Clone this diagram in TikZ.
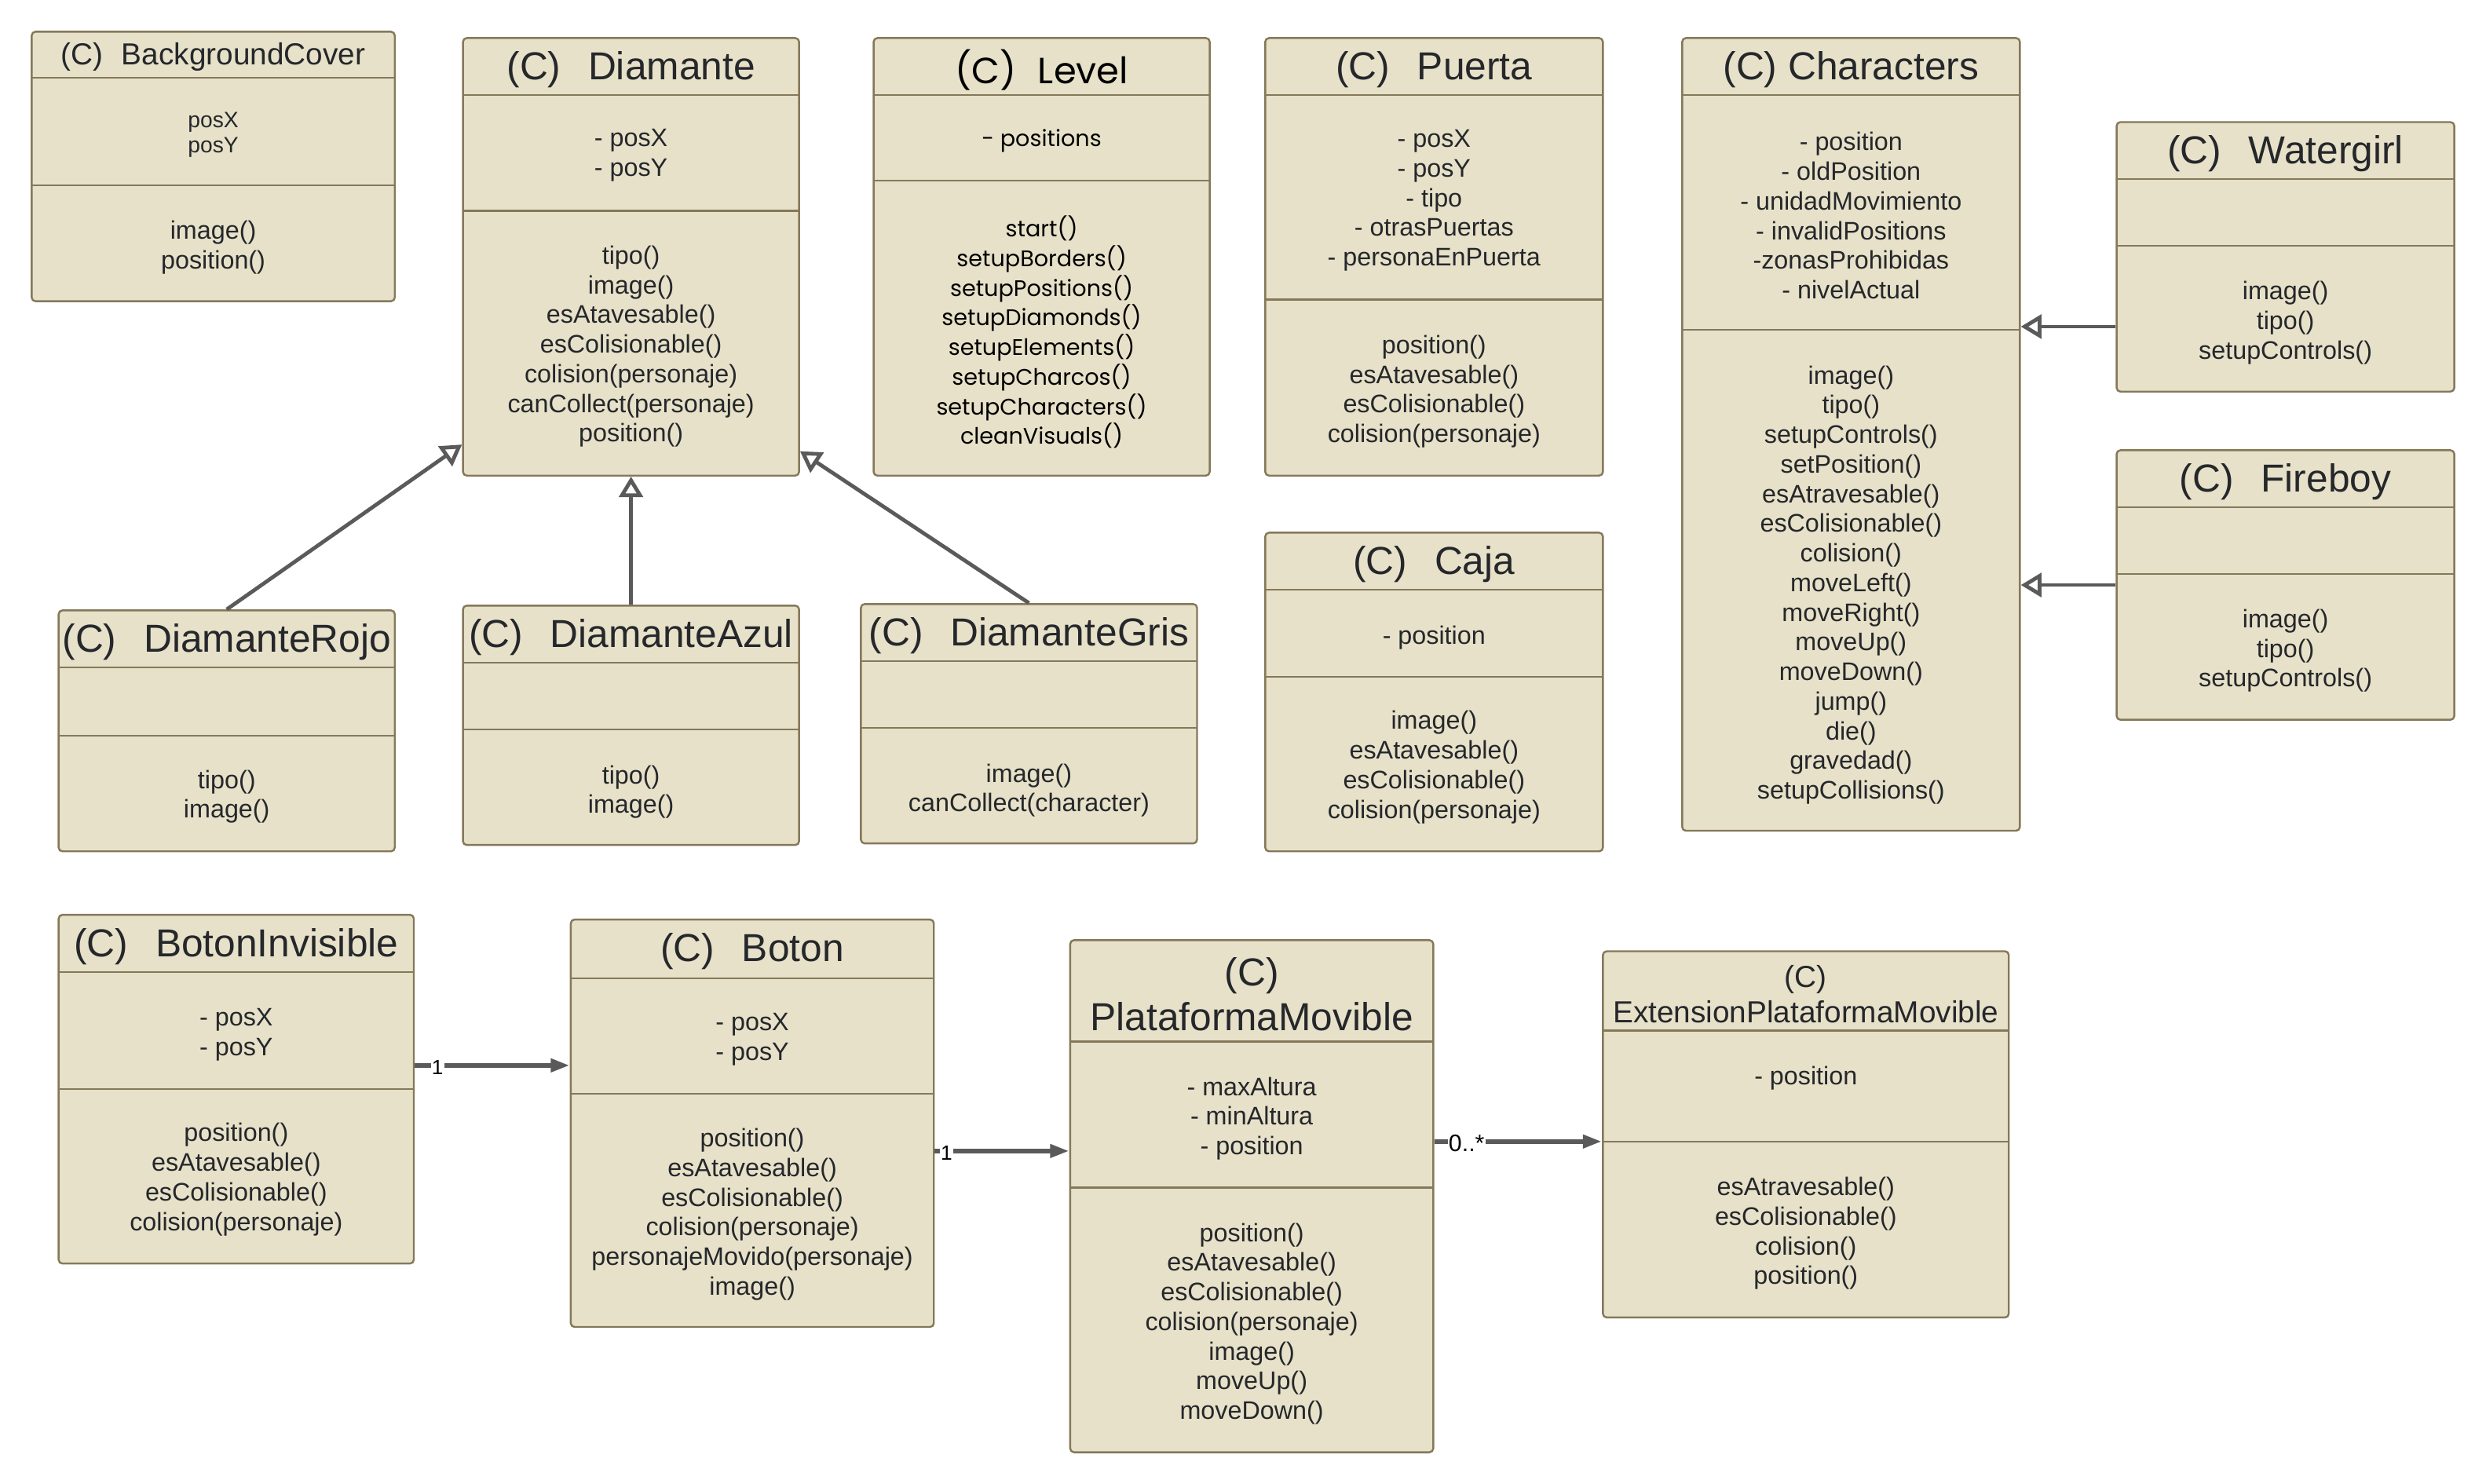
\documentclass[tikz,border=0pt]{standalone}
\usepackage{fontspec}
\setmainfont{Liberation Sans}
\newfontfamily\lvlfont{Poppins}
\usetikzlibrary{arrows.meta}
\usetikzlibrary{fit}

\definecolor{umlfill}{HTML}{E6E1C8}
\definecolor{umlborder}{HTML}{85785A}
\definecolor{umltext}{HTML}{25272B}
\definecolor{umlline}{HTML}{5A5A5A}

\newcommand{\clsfont}{\fontsize{12.3}{14}\selectfont}
\newcommand{\sclsfont}{\fontsize{9.6}{11}\selectfont}
\newcommand{\memfont}{\fontsize{8}{9.35}\selectfont}
\newcommand{\smemfont}{\fontsize{7}{8}\selectfont}

\begin{document}
\begin{tikzpicture}[x=0.5pt,y=-0.5pt,
    cls/.style={draw=umlborder, fill=umlfill, line width=0.6pt, rounded corners=1.2pt, inner sep=0pt},
    div/.style={draw=umlborder, line width=0.6pt},
    mem/.style={text=umltext, align=center, inner sep=0pt, yshift=-1pt, font=\memfont},
    head/.style={text=umltext, align=center, inner sep=0pt, yshift=-1pt, font=\clsfont},
    inh/.style={draw=umlline, line width=1.2pt, -{Triangle[open, length=6.5pt, width=7.5pt]}},
    asc/.style={draw=umlline, line width=1.5pt, -{Triangle[length=6pt, width=4pt]}},
    mult/.style={text=black, fill=white, inner sep=0.3pt, font=\fontsize{6.5}{6.5}\selectfont}]
    \useasboundingbox (0,0) rectangle (1568,936);

    % BackgroundCover
    \node[cls, fit={(20,20) (249,190)}] (bg) {};
    \draw[div] (20,49) -- (249,49);
    \draw[div] (20,117) -- (249,117);
    \node[head, font=\sclsfont] (bg-t) at (134.5,34) {(C)\hspace{0.6em}BackgroundCover};
    \node[mem, font=\smemfont] (bg-a) at (134.5,83) {posX\\posY};
    \node[mem] (bg-m) at (134.5,154) {image()\\position()};

    % Diamante
    \node[cls, fit={(292,24) (504,300)}] (dia) {};
    \draw[div] (292,60) -- (504,60);
    \draw[div] (292,133) -- (504,133);
    \node[head] (dia-t) at (398,42) {(C)\hspace{0.7em}Diamante};
    \node[mem] (dia-a) at (398,96) {- posX\\- posY};
    \node[mem] (dia-m) at (398,216.5) {tipo()\\image()\\esAtavesable()\\esColisionable()\\colision(personaje)\\canCollect(personaje)\\position()};

    % Level
    \node[cls, fit={(551,24) (763,300)}] (lvl) {};
    \draw[div] (551,60) -- (763,60);
    \draw[div] (551,114) -- (763,114);
    \node[head, text=black, font=\lvlfont\fontsize{11.5}{14}\selectfont] (lvl-t) at (657,42) {(C)\hspace{0.6em}Level};
    \node[mem, text=black, font=\lvlfont\fontsize{7.1}{9.35}\selectfont] (lvl-a) at (657,87) {- positions};
    \node[mem, text=black, font=\lvlfont\fontsize{7.1}{9.35}\selectfont] (lvl-m) at (657,207.5) {start()\\setupBorders()\\setupPositions()\\setupDiamonds()\\setupElements()\\setupCharcos()\\setupCharacters()\\cleanVisuals()};

    % Puerta
    \node[cls, fit={(798,24) (1011,300)}] (pue) {};
    \draw[div] (798,60) -- (1011,60);
    \draw[div] (798,189) -- (1011,189);
    \node[head] (pue-t) at (904.5,42) {(C)\hspace{0.7em}Puerta};
    \node[mem] (pue-a) at (904.5,124.5) {- posX\\- posY\\- tipo\\- otrasPuertas\\- personaEnPuerta};
    \node[mem] (pue-m) at (904.5,245) {position()\\esAtavesable()\\esColisionable()\\colision(personaje)};

    % Characters
    \node[cls, fit={(1061,24) (1274,524)}] (chr) {};
    \draw[div] (1061,60) -- (1274,60);
    \draw[div] (1061,208) -- (1274,208);
    \node[head] (chr-t) at (1167.5,42) {(C) Characters};
    \node[mem] (chr-a) at (1167.5,134) {- position\\- oldPosition\\- unidadMovimiento\\- invalidPositions\\-zonasProhibidas\\- nivelActual};
    \node[mem] (chr-m) at (1167.5,367) {image()\\tipo()\\setupControls()\\setPosition()\\esAtravesable()\\esColisionable()\\colision()\\moveLeft()\\moveRight()\\moveUp()\\moveDown()\\jump()\\die()\\gravedad()\\setupCollisions()};

    % Watergirl
    \node[cls, fit={(1335,77) (1548,247)}] (wat) {};
    \draw[div] (1335,113) -- (1548,113);
    \draw[div] (1335,155) -- (1548,155);
    \node[head] (wat-t) at (1441.5,95) {(C)\hspace{0.7em}Watergirl};
    \node[mem] (wat-m) at (1441.5,201.5) {image()\\tipo()\\setupControls()};

    % Fireboy
    \node[cls, fit={(1335,284) (1548,454)}] (fir) {};
    \draw[div] (1335,320) -- (1548,320);
    \draw[div] (1335,362) -- (1548,362);
    \node[head] (fir-t) at (1441.5,302) {(C)\hspace{0.7em}Fireboy};
    \node[mem] (fir-m) at (1441.5,408.5) {image()\\tipo()\\setupControls()};

    % Caja
    \node[cls, fit={(798,336) (1011,537)}] (caj) {};
    \draw[div] (798,372) -- (1011,372);
    \draw[div] (798,427) -- (1011,427);
    \node[head] (caj-t) at (904.5,354) {(C)\hspace{0.7em}Caja};
    \node[mem] (caj-a) at (904.5,400) {- position};
    \node[mem] (caj-m) at (904.5,482) {image()\\esAtavesable()\\esColisionable()\\colision(personaje)};

    % second row: the diamonds
    \node[cls, fit={(37,385) (249,537)}] (roj) {};
    \draw[div] (37,421) -- (249,421);
    \draw[div] (37,464) -- (249,464);
    \node[head] (roj-t) at (143,403) {(C)\hspace{0.7em}DiamanteRojo};
    \node[mem] (roj-m) at (143,500.5) {tipo()\\image()};

    \node[cls, fit={(292,382) (504,533)}] (azu) {};
    \draw[div] (292,418) -- (504,418);
    \draw[div] (292,460) -- (504,460);
    \node[head] (azu-t) at (398,400) {(C)\hspace{0.7em}DiamanteAzul};
    \node[mem] (azu-m) at (398,497.5) {tipo()\\image()};

    \node[cls, fit={(543,381) (755,532)}] (gri) {};
    \draw[div] (543,417) -- (755,417);
    \draw[div] (543,459) -- (755,459);
    \node[head] (gri-t) at (649,399) {(C)\hspace{0.7em}DiamanteGris};
    \node[mem] (gri-m) at (649,496.5) {image()\\canCollect(character)};

    % bottom row
    \node[cls, fit={(37,577) (261,797)}] (bti) {};
    \draw[div] (37,613) -- (261,613);
    \draw[div] (37,687) -- (261,687);
    \node[head] (bti-t) at (149,595) {(C)\hspace{0.7em}BotonInvisible};
    \node[mem] (bti-a) at (149,650.5) {- posX\\- posY};
    \node[mem] (bti-m) at (149,742) {position()\\esAtavesable()\\esColisionable()\\colision(personaje)};

    \node[cls, fit={(360,580) (589,837)}] (bot) {};
    \draw[div] (360,617) -- (589,617);
    \draw[div] (360,690) -- (589,690);
    \node[head] (bot-t) at (474.5,598) {(C)\hspace{0.7em}Boton};
    \node[mem] (bot-a) at (474.5,653.5) {- posX\\- posY};
    \node[mem] (bot-m) at (474.5,764) {position()\\esAtavesable()\\esColisionable()\\colision(personaje)\\personajeMovido(personaje)\\image()};

    \node[cls, fit={(675,593) (904,916)}] (pla) {};
    \draw[div] (675,657) -- (904,657);
    \draw[div] (675,749) -- (904,749);
    \node[head] (pla-t) at (789.5,625) {(C)\\PlataformaMovible};
    \node[mem] (pla-a) at (789.5,703.5) {- maxAltura\\- minAltura\\- position};
    \node[mem] (pla-m) at (789.5,833) {position()\\esAtavesable()\\esColisionable()\\colision(personaje)\\image()\\moveUp()\\moveDown()};

    \node[cls, fit={(1011,600) (1267,831)}] (ext) {};
    \draw[div] (1011,650) -- (1267,650);
    \draw[div] (1011,720) -- (1267,720);
    \node[head, font=\sclsfont] (ext-t) at (1139,625) {(C)\\ExtensionPlataformaMovible};
    \node[mem] (ext-a) at (1139,678) {- position};
    \node[mem] (ext-m) at (1139,776) {esAtravesable()\\esColisionable()\\colision()\\position()};

    % inheritance
    \draw[inh] (roj.north) -- (dia.228);
    \draw[inh] (azu.north) -- (dia.south);
    \draw[inh] (gri.north) -- (dia.311);
    \coordinate (wat-out) at ([yshift=-22pt]wat.west);
    \draw[inh] (wat-out) -- (chr.east |- wat-out);
    \draw[inh] (fir.west) -- (chr.east |- fir.west);

    % associations
    \coordinate (bti-out) at ([yshift=7.5pt]bti.east);
    \draw[asc] (bti-out) -- (bot.west |- bti-out);
    \node[mult] (m1) at (276,673.5) {1};
    \coordinate (bot-out) at ([yshift=-8.75pt]bot.east);
    \draw[asc] (bot-out) -- (pla.west |- bot-out);
    \node[mult] (m2) at (597,727.5) {1};
    \coordinate (pla-out) at ([yshift=17.25pt]pla.east);
    \draw[asc] (pla-out) -- (ext.west |- pla-out);
    \node[mult, font=\fontsize{7.5}{7.5}\selectfont] (m3) at (925,721) {0..*};
\end{tikzpicture}
\end{document}
